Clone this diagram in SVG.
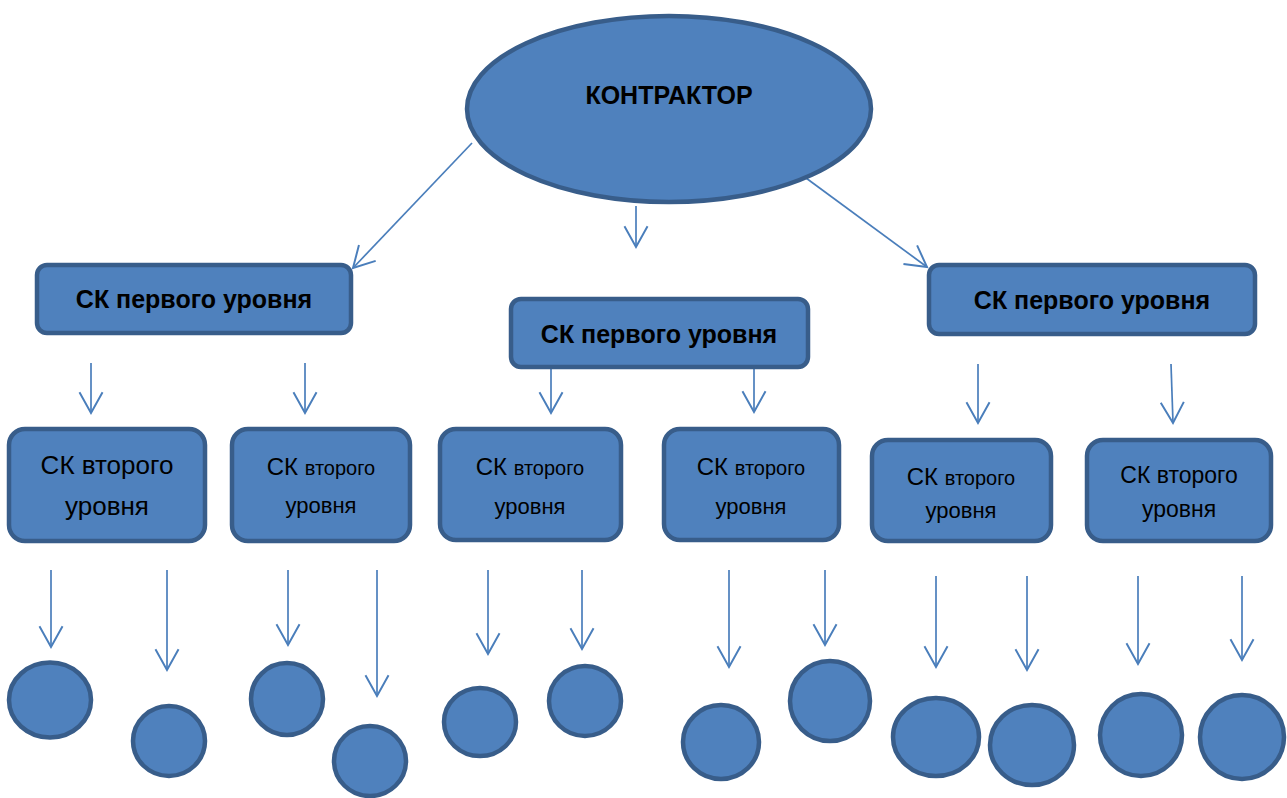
<svg xmlns="http://www.w3.org/2000/svg" width="1287" height="798" viewBox="0 0 1287 798">
<defs>
<style>
.n{fill:#4f81bd;stroke:#385d8a;stroke-width:4.5}
.t{font-family:"Liberation Sans",Arial,sans-serif;fill:#000;text-anchor:middle}
.b{font-weight:bold;font-size:25px}
.r{font-size:24px}
.s{font-size:20px}
.c line{stroke:#4a7ebb;stroke-width:1.7;marker-end:url(#a)}
</style>
<marker id="a" markerUnits="userSpaceOnUse" markerWidth="30" markerHeight="30" viewBox="-22 -13 26 26" refX="0" refY="0" orient="auto" overflow="visible">
<path d="M-18,-10 L0,0 L-18,10" fill="none" stroke="#4a7ebb" stroke-width="1.7"/>
</marker>
</defs>
<rect width="1287" height="798" fill="#fff"/>
<g id="connectors" class="c">
<line x1="472" y1="143" x2="353" y2="268"/>
<line x1="636" y1="206" x2="636" y2="247"/>
<line x1="806" y1="178" x2="927" y2="267"/>
<line x1="91" y1="363" x2="91" y2="413"/>
<line x1="305" y1="363" x2="305" y2="413"/>
<line x1="551" y1="369" x2="551" y2="413"/>
<line x1="754" y1="369" x2="754" y2="412"/>
<line x1="978" y1="364" x2="978" y2="423"/>
<line x1="1171" y1="364" x2="1173" y2="423"/>
<line x1="51" y1="570" x2="51" y2="647"/>
<line x1="167" y1="570" x2="167" y2="670"/>
<line x1="288" y1="570" x2="288" y2="645"/>
<line x1="377" y1="570" x2="377" y2="696"/>
<line x1="488" y1="570" x2="488" y2="654"/>
<line x1="582" y1="570" x2="582" y2="649"/>
<line x1="729" y1="570" x2="729" y2="667"/>
<line x1="825" y1="570" x2="825" y2="645"/>
<line x1="936" y1="576" x2="936" y2="667"/>
<line x1="1027" y1="576" x2="1027" y2="670"/>
<line x1="1138" y1="576" x2="1138" y2="664"/>
<line x1="1242" y1="576" x2="1242" y2="660"/>
</g>
<g id="root">
<ellipse class="n" cx="669" cy="109" rx="202" ry="93"/>
<text class="t b" x="669" y="104" style="font-size:25px">КОНТРАКТОР</text>
</g>
<g id="l1a">
<rect class="n" x="37" y="265" width="314" height="68" rx="10"/>
<text class="t b" x="194" y="308">СК первого уровня</text>
</g>
<g id="l1b">
<rect class="n" x="511" y="299" width="297" height="68" rx="10"/>
<text class="t b" x="659" y="343">СК первого уровня</text>
</g>
<g id="l1c">
<rect class="n" x="929" y="265" width="326" height="69" rx="10"/>
<text class="t b" x="1092" y="309">СК первого уровня</text>
</g>
<g id="l2a">
<rect class="n" x="9" y="429" width="196" height="112" rx="16"/>
<text class="t" x="107" y="474" font-size="26">СК второго</text>
<text class="t" x="107" y="515" font-size="26">уровня</text>
</g>
<g id="l2b">
<rect class="n" x="232" y="429" width="178" height="112" rx="16"/>
<text class="t r" x="321" y="475">СК <tspan class="s">второго</tspan></text>
<text class="t" x="321" y="513" font-size="22">уровня</text>
</g>
<g id="l2c">
<rect class="n" x="440" y="429" width="181" height="111" rx="16"/>
<text class="t r" x="530" y="475">СК <tspan class="s">второго</tspan></text>
<text class="t" x="530" y="514" font-size="22">уровня</text>
</g>
<g id="l2d">
<rect class="n" x="664" y="429" width="175" height="111" rx="16"/>
<text class="t r" x="751" y="475">СК <tspan class="s">второго</tspan></text>
<text class="t" x="751" y="514" font-size="22">уровня</text>
</g>
<g id="l2e">
<rect class="n" x="872" y="440" width="179" height="101" rx="16"/>
<text class="t r" x="961" y="485">СК <tspan class="s">второго</tspan></text>
<text class="t" x="961" y="518" font-size="22">уровня</text>
</g>
<g id="l2f">
<rect class="n" x="1087" y="440" width="184" height="101" rx="16"/>
<text class="t" x="1179" y="483" font-size="23">СК второго</text>
<text class="t" x="1179" y="517" font-size="23">уровня</text>
</g>
<g id="leaf1"><ellipse class="n" cx="50" cy="700" rx="41" ry="37.5"/></g>
<g id="leaf2"><ellipse class="n" cx="169" cy="741" rx="36" ry="35"/></g>
<g id="leaf3"><ellipse class="n" cx="287" cy="699" rx="36" ry="36"/></g>
<g id="leaf4"><ellipse class="n" cx="370" cy="761" rx="36" ry="35"/></g>
<g id="leaf5"><ellipse class="n" cx="480" cy="722" rx="36" ry="34"/></g>
<g id="leaf6"><ellipse class="n" cx="585" cy="701" rx="36" ry="35"/></g>
<g id="leaf7"><ellipse class="n" cx="721" cy="742" rx="38" ry="37"/></g>
<g id="leaf8"><ellipse class="n" cx="830" cy="701" rx="40" ry="40"/></g>
<g id="leaf9"><ellipse class="n" cx="936" cy="737" rx="43" ry="39"/></g>
<g id="leaf10"><ellipse class="n" cx="1032" cy="745" rx="42" ry="40"/></g>
<g id="leaf11"><ellipse class="n" cx="1141" cy="735" rx="41" ry="41"/></g>
<g id="leaf12"><ellipse class="n" cx="1242" cy="737" rx="42" ry="42"/></g>
</svg>
